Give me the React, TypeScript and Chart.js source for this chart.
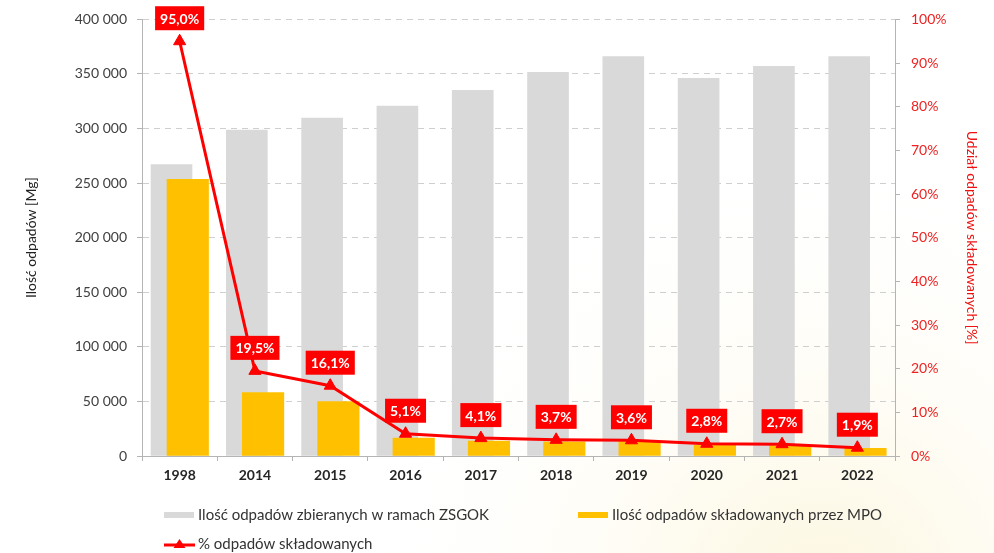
import React, { useEffect, useRef } from 'react';
import { Chart, registerables } from 'chart.js';

Chart.register(...registerables);

const categories = ['1998', '2014', '2015', '2016', '2017', '2018', '2019', '2020', '2021', '2022'];
const collectedSeries = [267000, 298500, 309500, 320500, 335000, 351500, 366000, 346000, 357000, 366000];
const landfilledSeries = [253500, 58000, 49800, 16400, 13700, 13000, 13200, 9700, 9600, 7000];
const percentSeries = [95.0, 19.5, 16.1, 5.1, 4.1, 3.7, 3.6, 2.8, 2.7, 1.9];

const seriesNames = [
  'Ilość odpadów zbieranych w ramach ZSGOK',
  'Ilość odpadów składowanych przez MPO',
  '% odpadów składowanych',
];
const leftAxisTitle = 'Ilość odpadów [Mg]';
const rightAxisTitle = 'Udział odpadów składowanych [%]';

const FONT = 'Lato, "Open Sans", sans-serif';
const GRAY = '#d9d9d9';
const YELLOW = '#ffc000';
const RED = '#ff0000';
const AXIS = '#b4b4b4';
const SHIFT = 0.108; // fraction of a category the two bar series are offset from centre

const fmtThousands = (v: number) =>
  String(Math.round(v)).replace(/\B(?=(\d{3})+(?!\d))/g, ' ');
const fmtPct = (v: number) => v.toFixed(1).replace('.', ',') + '%';

const backgroundPlugin = {
  id: 'bg',
  beforeDraw(chart: any) {
    const { ctx, width, height } = chart;
    ctx.save();
    ctx.fillStyle = '#ffffff';
    ctx.fillRect(0, 0, width, height);
    const g = ctx.createRadialGradient(820, 600, 10, 820, 600, 480);
    g.addColorStop(0, 'rgba(252,246,220,0.9)');
    g.addColorStop(1, 'rgba(255,255,255,0)');
    ctx.fillStyle = g;
    ctx.fillRect(0, 0, width, height);
    ctx.restore();
  },
};

const labelPlugin = {
  id: 'pctLabels',
  afterDatasetsDraw(chart: any) {
    const { ctx } = chart;
    const meta = chart.getDatasetMeta(2);
    ctx.save();
    ctx.font = `bold 14px ${FONT}`;
    ctx.textAlign = 'center';
    ctx.textBaseline = 'middle';
    meta.data.forEach((pt: any, i: number) => {
      const text = fmtPct(percentSeries[i]);
      const w = ctx.measureText(text).width + 10;
      const h = 24;
      const bottom = pt.y - 11;
      ctx.fillStyle = RED;
      ctx.fillRect(pt.x - w / 2, bottom - h, w, h);
      ctx.fillStyle = '#ffffff';
      ctx.fillText(text, pt.x, bottom - h / 2 + 1);
    });
    ctx.restore();
  },
};

const legendPlugin = {
  id: 'customLegend',
  afterDraw(chart: any) {
    const { ctx } = chart;
    ctx.save();
    ctx.font = `15px ${FONT}`;
    ctx.textBaseline = 'middle';
    ctx.textAlign = 'left';
    const items = [
      { x: 164, y: 515, kind: 'box', color: GRAY, text: seriesNames[0] },
      { x: 578, y: 515, kind: 'box', color: YELLOW, text: seriesNames[1] },
      { x: 164, y: 544, kind: 'line', color: RED, text: seriesNames[2] },
    ];
    items.forEach((it) => {
      if (it.kind === 'box') {
        ctx.fillStyle = it.color;
        ctx.fillRect(it.x, it.y - 3, 30, 6);
      } else {
        ctx.strokeStyle = it.color;
        ctx.lineWidth = 3;
        ctx.beginPath();
        ctx.moveTo(it.x, it.y + 1);
        ctx.lineTo(it.x + 31, it.y + 1);
        ctx.stroke();
        ctx.fillStyle = it.color;
        const cx = it.x + 15.5;
        ctx.beginPath();
        ctx.moveTo(cx, it.y - 5);
        ctx.lineTo(cx + 6, it.y + 4);
        ctx.lineTo(cx - 6, it.y + 4);
        ctx.closePath();
        ctx.fill();
      }
      ctx.fillStyle = '#333333';
      ctx.fillText(it.text, it.x + 34, it.y);
    });
    ctx.restore();
  },
};

export default function App() {
  const ref = useRef<HTMLCanvasElement | null>(null);

  useEffect(() => {
    document.body.style.margin = '0';
    const canvas = ref.current;
    if (!canvas) return;
    const n = categories.length;
    const chart = new Chart(canvas, {
      type: 'bar',
      data: {
        labels: categories,
        datasets: [
          {
            type: 'bar',
            label: seriesNames[0],
            data: collectedSeries.map((v, i) => ({ x: i, y: v })),
            backgroundColor: GRAY,
            xAxisID: 'xg',
            yAxisID: 'y',
            order: 2,
            grouped: false,
            barThickness: 41,
          } as any,
          {
            type: 'bar',
            label: seriesNames[1],
            data: landfilledSeries.map((v, i) => ({ x: i, y: v })),
            backgroundColor: YELLOW,
            xAxisID: 'xy',
            yAxisID: 'y',
            order: 1,
            grouped: false,
            barThickness: 41.5,
          } as any,
          {
            type: 'line',
            label: seriesNames[2],
            data: percentSeries,
            borderColor: RED,
            backgroundColor: RED,
            borderWidth: 3,
            pointStyle: 'triangle',
            pointRadius: 7,
            pointHoverRadius: 7,
            pointBackgroundColor: RED,
            pointBorderColor: RED,
            pointBorderWidth: 1,
            tension: 0,
            xAxisID: 'x',
            yAxisID: 'y1',
            order: 0,
          } as any,
        ],
      },
      options: {
        animation: false,
        responsive: false,
        maintainAspectRatio: false,
        events: [],
        layout: { padding: { top: 18, bottom: 67, left: 0, right: 0 } },
        plugins: {
          legend: { display: false },
          tooltip: { enabled: false },
        },
        scales: {
          x: {
            type: 'category',
            offset: true,
            grid: {
              offset: true,
              drawOnChartArea: false,
              drawTicks: true,
              tickLength: 5,
              color: AXIS,
            },
            border: { display: true, color: AXIS },
            ticks: {
              color: '#262626',
              font: { family: FONT, size: 14, weight: 'bold' },
              padding: 6,
            },
            afterFit(scale: any) {
              scale.height = 30;
            },
          },
          xg: {
            type: 'linear',
            axis: 'x',
            position: 'bottom',
            display: false,
            offset: false,
            min: -0.5 + SHIFT,
            max: n - 0.5 + SHIFT,
          },
          xy: {
            type: 'linear',
            axis: 'x',
            position: 'bottom',
            display: false,
            offset: false,
            min: -0.5 - SHIFT,
            max: n - 0.5 - SHIFT,
          },
          y: {
            position: 'left',
            min: 0,
            max: 400000,
            ticks: {
              stepSize: 50000,
              color: '#404040',
              font: { family: FONT, size: 14 },
              padding: 10,
              callback: (v: any) => fmtThousands(Number(v)),
            },
            grid: {
              color: '#cfcfcf',
              lineWidth: 1,
              drawTicks: true,
              tickLength: 5,
              tickColor: AXIS,
              tickBorderDash: [],
            } as any,
            border: { display: true, color: AXIS, dash: [6, 5] },
            title: {
              display: true,
              text: leftAxisTitle,
              color: '#222222',
              font: { family: FONT, size: 14 },
              padding: { top: 23, bottom: 0 },
            },
            afterFit(scale: any) {
              scale.width = 142;
            },
          },
          y1: {
            position: 'right',
            min: 0,
            max: 100,
            ticks: {
              stepSize: 10,
              color: '#ee2222',
              font: { family: FONT, size: 14 },
              padding: 11,
              callback: (v: any) => `${v}%`,
            },
            grid: {
              drawOnChartArea: false,
              drawTicks: true,
              tickLength: 5,
              color: AXIS,
            },
            border: { display: true, color: AXIS },
            title: {
              display: true,
              text: rightAxisTitle,
              color: '#ee1111',
              font: { family: FONT, size: 14 },
              padding: { top: 14, bottom: 0 },
            },
            afterFit(scale: any) {
              scale.width = 99;
            },
          },
        },
      } as any,
      plugins: [backgroundPlugin, labelPlugin, legendPlugin],
    });
    return () => chart.destroy();
  }, []);

  return (
    <div style={{ width: 994, height: 553 }}>
      <canvas ref={ref} width={994} height={553} style={{ display: 'block', width: 994, height: 553 }} />
    </div>
  );
}
